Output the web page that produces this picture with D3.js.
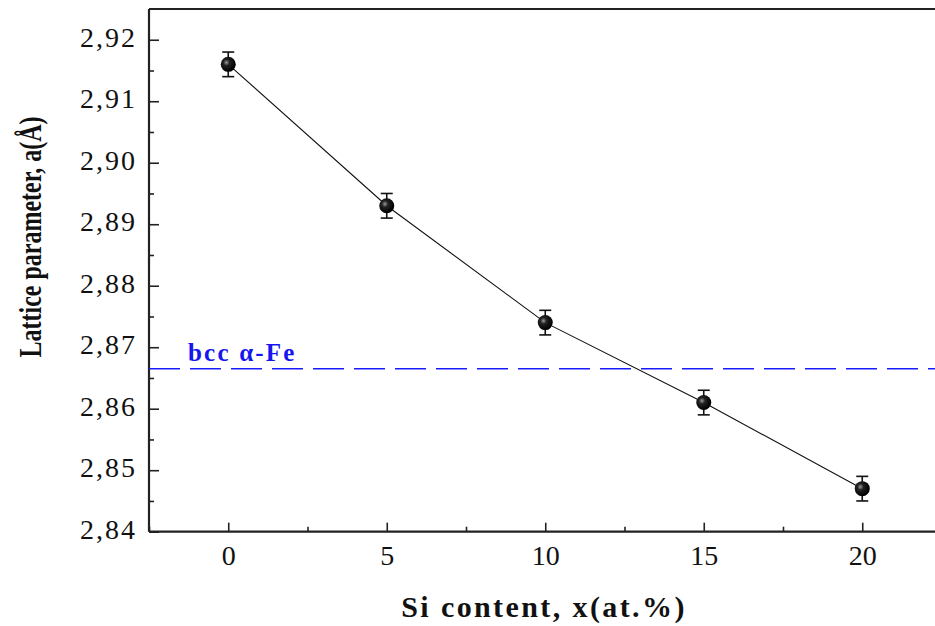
<!DOCTYPE html>
<html>
<head>
<meta charset="utf-8">
<script src="https://cdn.jsdelivr.net/npm/d3@7"></script>
<style>
  html, body { margin: 0; padding: 0; background: #fff; }
  svg { display: block; font-family: "Liberation Serif", "Times New Roman", serif; }
</style>
</head>
<body>
<div id="chart"></div>
<script>
(function () {
  // data
  const siContent = [0, 5, 10, 15, 20];
  const latticeParam = [2.916, 2.893, 2.874, 2.861, 2.847];
  const latticeErr = [0.002, 0.002, 0.002, 0.002, 0.002];
  const bccFe = 2.8665;
  const xTicks = [0, 5, 10, 15, 20];
  const yTicks = [2.84, 2.85, 2.86, 2.87, 2.88, 2.89, 2.90, 2.91, 2.92];

  const width = 935, height = 626;
  const serif = "'Liberation Serif', 'Times New Roman', serif";

  const svg = d3.select("#chart").append("svg")
    .attr("width", width)
    .attr("height", height);

  // scales
  const x = d3.scaleLinear().domain([-2.5, 22.5]).range([149, 941.5]);
  const y = d3.scaleLinear().domain([2.84, 2.925]).range([531.7, 9]);

  const fmt = d => d3.format(".2f")(d).replace(".", ",");

  // minor ticks first
  const xMinor = d3.range(-2.5, 22.6, 2.5).filter(v => !xTicks.includes(v));
  const yMinor = d3.range(2.845, 2.925, 0.01);

  svg.append("g")
    .attr("transform", `translate(0,${y(2.84)})`)
    .call(d3.axisBottom(x).tickValues(xMinor).tickSize(-5).tickFormat(""))
    .call(g => g.select(".domain").remove())
    .selectAll("line").attr("stroke", "#222").attr("stroke-width", 1.6);

  svg.append("g")
    .attr("transform", `translate(${x(-2.5)},0)`)
    .call(d3.axisLeft(y).tickValues(yMinor).tickSize(-5).tickFormat(""))
    .call(g => g.select(".domain").remove())
    .selectAll("line").attr("stroke", "#222").attr("stroke-width", 1.6);

  // main axes
  const xAxis = svg.append("g")
    .attr("transform", `translate(0,${y(2.84)})`)
    .call(d3.axisBottom(x).tickValues(xTicks).tickSize(-9).tickPadding(13).tickFormat(d3.format("d")));
  xAxis.select(".domain").remove();
  xAxis.selectAll("line").attr("stroke", "#222").attr("stroke-width", 1.6);
  xAxis.selectAll("text")
    .attr("fill", "#111")
    .style("font-size", "28px")
    .style("font-family", serif);

  const yAxis = svg.append("g")
    .attr("transform", `translate(${x(-2.5)},0)`)
    .call(d3.axisLeft(y).tickValues(yTicks).tickSize(-10).tickPadding(12).tickFormat(fmt));
  yAxis.select(".domain").remove();
  yAxis.selectAll("line").attr("stroke", "#222").attr("stroke-width", 1.6);
  yAxis.selectAll("text")
    .attr("fill", "#111")
    .attr("dy", "0.24em")
    .style("font-size", "28px")
    .style("letter-spacing", "2px")
    .style("font-family", serif);

  // frame: left, bottom, top (right side runs off the image)
  const frame = svg.append("g").attr("stroke", "#222").attr("stroke-width", 2.2).attr("fill", "none");
  frame.append("line").attr("x1", x(-2.5)).attr("x2", x(-2.5)).attr("y1", y(2.925)).attr("y2", y(2.84));
  frame.append("line").attr("x1", x(-2.5)).attr("x2", x(22.5)).attr("y1", y(2.84)).attr("y2", y(2.84));
  frame.append("line").attr("x1", x(-2.5)).attr("x2", x(22.5)).attr("y1", y(2.925)).attr("y2", y(2.925));

  // bcc alpha-Fe reference line
  svg.append("line")
    .attr("x1", x(-2.5)).attr("x2", x(22.5))
    .attr("y1", y(bccFe)).attr("y2", y(bccFe))
    .attr("stroke", "#1a1aff")
    .attr("stroke-width", 1.6)
    .attr("stroke-dasharray", "31,10");

  svg.append("text")
    .attr("x", 188).attr("y", y(bccFe) - 8)
    .attr("fill", "#1515ee")
    .style("font-size", "25px")
    .style("font-weight", "bold")
    .style("letter-spacing", "2.2px")
    .text("bcc α-Fe");

  // data line
  const pts = siContent.map((s, i) => ({ x: s, y: latticeParam[i], e: latticeErr[i] }));

  svg.append("path")
    .datum(pts)
    .attr("fill", "none")
    .attr("stroke", "#111")
    .attr("stroke-width", 1.1)
    .attr("d", d3.line().x(d => x(d.x)).y(d => y(d.y)));

  // error bars
  const eb = svg.append("g").attr("stroke", "#111").attr("stroke-width", 1.6);
  eb.selectAll(".v").data(pts).join("line")
    .attr("x1", d => x(d.x)).attr("x2", d => x(d.x))
    .attr("y1", d => y(d.y + d.e)).attr("y2", d => y(d.y - d.e));
  eb.selectAll(".t").data(pts).join("line")
    .attr("x1", d => x(d.x) - 6).attr("x2", d => x(d.x) + 6)
    .attr("y1", d => y(d.y + d.e)).attr("y2", d => y(d.y + d.e));
  eb.selectAll(".b").data(pts).join("line")
    .attr("x1", d => x(d.x) - 6).attr("x2", d => x(d.x) + 6)
    .attr("y1", d => y(d.y - d.e)).attr("y2", d => y(d.y - d.e));

  // markers with a small highlight
  const grad = svg.append("defs").append("radialGradient")
    .attr("id", "ball").attr("cx", "38%").attr("cy", "38%").attr("r", "60%");
  grad.append("stop").attr("offset", "0%").attr("stop-color", "#9a9a9a");
  grad.append("stop").attr("offset", "35%").attr("stop-color", "#222");
  grad.append("stop").attr("offset", "100%").attr("stop-color", "#000");

  svg.append("g").selectAll("circle").data(pts).join("circle")
    .attr("cx", d => x(d.x)).attr("cy", d => y(d.y))
    .attr("r", 7.5)
    .attr("fill", "url(#ball)");

  // axis titles
  svg.append("text")
    .attr("x", 544).attr("y", 617)
    .attr("text-anchor", "middle")
    .attr("fill", "#111")
    .style("font-size", "30px")
    .style("font-weight", "bold")
    .style("letter-spacing", "2.4px")
    .text("Si content, x(at.%)");

  // the source figure is stretched sideways, so the rotated title is thicker than tall
  svg.append("text")
    .attr("transform", `translate(41,237) rotate(-90) scale(1,1.3)`)
    .attr("text-anchor", "middle")
    .attr("fill", "#111")
    .style("font-size", "24px")
    .style("font-weight", "bold")
    .text("Lattice parameter, a(Å)");
})();
</script>
</body>
</html>
